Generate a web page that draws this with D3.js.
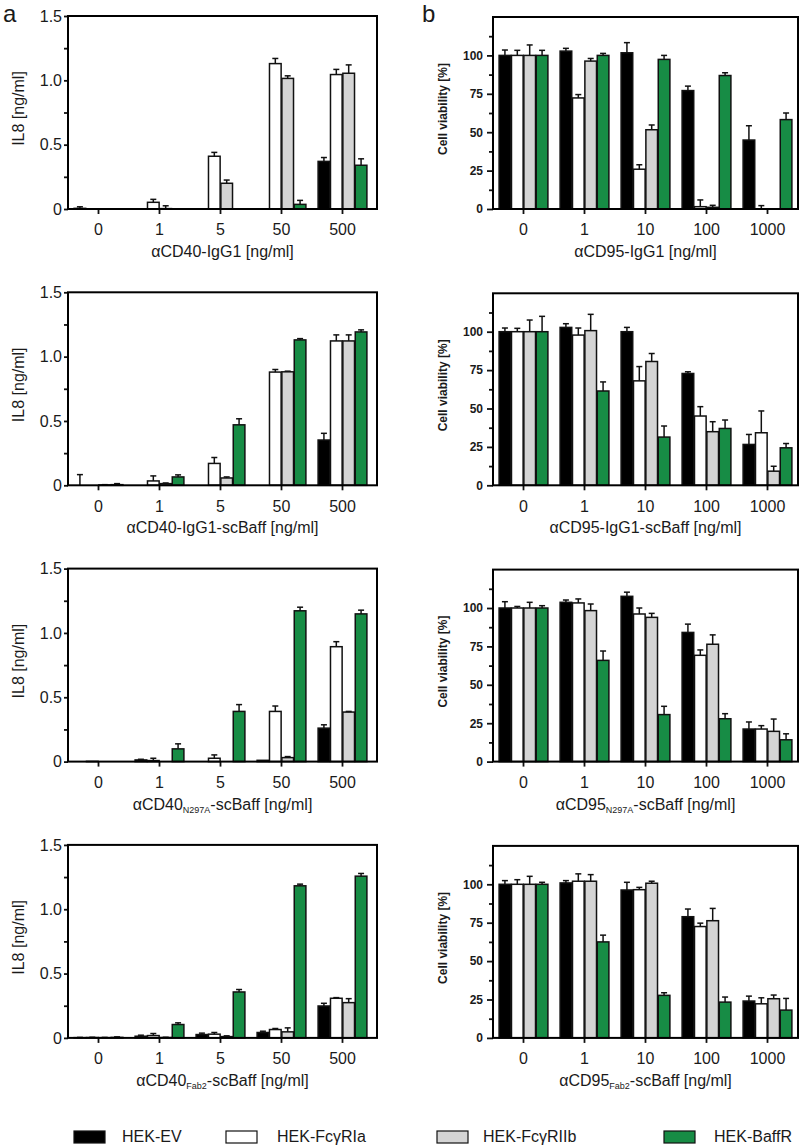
<!DOCTYPE html>
<html><head><meta charset="utf-8">
<script src="https://cdn.jsdelivr.net/npm/d3@7/dist/d3.min.js"></script>
<style>
body{margin:0;background:#fff}
svg{display:block}
text{font-family:"Liberation Sans",Arial,Helvetica,sans-serif;fill:#1a1a1a}
</style>
</head><body>
<svg id="chart" width="800" height="1145"></svg>
<script>
// ---------- data ----------
const seriesNames = ["HEK-EV", "HEK-FcγRIa", "HEK-FcγRIIb", "HEK-BaffR"];
const il8Doses = ["0", "1", "5", "50", "500"];
const cd95Doses = ["0", "1", "10", "100", "1000"];
const il8TickValues = [0, 0.5, 1.0, 1.5];
const il8TickLabels = ["0", "0.5", "1.0", "1.5"];
const il8MinorTicks = [0.25, 0.75, 1.25];
const viabTickValues = [0, 25, 50, 75, 100];
const viabTickLabels = ["0", "25", "50", "75", "100"];
const viabMinorTicks = [12.5, 37.5, 62.5, 87.5, 112.5];

// panel a – IL8 [ng/ml]; rows = series (EV, FcγRIa, FcγRIIb, BaffR), cols = doses
const a1Mean = [[0.005,0,0,0,0.37],[0,0.052,0.41,1.13,1.045],[0,0.003,0.2,1.015,1.055],[0,0,0,0.036,0.34]];
const a1Err  = [[0.012,0,0,0,0.03],[0,0.023,0.03,0.04,0.04],[0,0.022,0.025,0.02,0.065],[0,0,0,0.031,0.05]];
const a2Mean = [[0,0,0,0,0.352],[0,0.034,0.17,0.88,1.122],[0.003,0.013,0.057,0.882,1.122],[0.005,0.065,0.47,1.13,1.192]];
const a2Err  = [[0.083,0,0,0,0.052],[0,0.039,0.046,0.02,0.047],[0.002,0.005,0.008,0.005,0.047],[0.008,0.016,0.047,0.01,0.016]];
const a3Mean = [[0,0.013,0,0.01,0.26],[0.002,0.008,0.026,0.39,0.893],[0,0,0,0.031,0.385],[0,0.099,0.39,1.172,1.148]];
const a3Err  = [[0,0.005,0,0,0.026],[0,0.018,0.026,0.042,0.039],[0,0,0,0.008,0.005],[0,0.039,0.053,0.028,0.029]];
const a4Mean = [[0.002,0.013,0.026,0.042,0.248],[0.003,0.018,0.029,0.065,0.308],[0.002,0.003,0.01,0.047,0.274],[0.004,0.104,0.357,1.182,1.257]];
const a4Err  = [[0.002,0.008,0.011,0.01,0.021],[0.002,0.016,0.013,0.008,0.005],[0.002,0.002,0.006,0.031,0.031],[0.004,0.013,0.019,0.013,0.021]];

// panel b – cell viability [%]
const b1Mean = [[100,102.8,101.7,77.1,44.9],[100,72.3,25.9,1.5,0],[100,96.3,51.6,1.1,0],[100,100,97.4,86.9,58.2]];
const b1Err  = [[3.5,1.8,6.6,2.9,9.3],[3.3,2.2,2.9,4.4,2.2],[6.8,1.7,3.1,1.3,0],[3.3,1.3,2.6,1.8,4.3]];
const b2Mean = [[100,102.8,100,72.8,26.6],[100,97.8,68,45.1,34.2],[100,100.7,80.6,34.9,9.2],[100,61.4,31.4,37,24.4]];
const b2Err  = [[2.4,2.4,2.8,1.1,6.5],[2.2,4.6,9.3,6.1,14.2],[7.6,10.6,5.2,6.5,3.2],[10,5.9,7.2,5.5,2.8]];
const b3Mean = [[100,103.7,107.6,84.1,21.2],[100,103.3,96.1,69.2,21.2],[100,98.3,93.9,76.4,19.7],[100,65.9,30.6,27.9,14.2]];
const b3Err  = [[4.1,1.5,2.7,5.4,4.6],[1,2.6,3.9,3.5,2.2],[3.7,4.3,2.6,6.1,8],[1.5,6.1,5.4,3.3,3.9]];
const b4Mean = [[100,100.9,96.3,78.9,24],[100,102,96.5,72.5,22.2],[100,102,100.7,76.3,25.5],[100,62.5,27.7,23.3,18.1]];
const b4Err  = [[2.4,1.5,5,5,3.2],[3,4.8,1.5,2.2,3.9],[5.2,4.3,1.3,8,2.4],[1.3,4.4,1.7,3.3,7.6]];

// x-axis titles: [main, subscript, rest]
const aTitles = [["αCD40-IgG1 [ng/ml]","",""],["αCD40-IgG1-scBaff [ng/ml]","",""],["αCD40","N297A","-scBaff [ng/ml]"],["αCD40","Fab2","-scBaff [ng/ml]"]];
const bTitles = [["αCD95-IgG1 [ng/ml]","",""],["αCD95-IgG1-scBaff [ng/ml]","",""],["αCD95","N297A","-scBaff [ng/ml]"],["αCD95","Fab2","-scBaff [ng/ml]"]];

// ---------- styling ----------
const fills = ["#000000", "#ffffff", "#d4d4d4", "#178c45"];
const svg = d3.select("#chart");

function drawPanel(cfg) {
  const g = svg.append("g");
  const x = d3.scaleBand().domain(cfg.doses).range([cfg.x0, cfg.x0 + 305]).paddingInner(0.2).paddingOuter(0.1);
  const xs = d3.scaleBand().domain(d3.range(4)).range([0, x.bandwidth()]).paddingInner(0.06);
  const y = d3.scaleLinear().domain([0, cfg.yMax]).range([cfg.bottom, cfg.top]);

  // bars
  const cells = [];
  cfg.means.forEach((row, k) => row.forEach((v, j) => cells.push({k, j, v, e: cfg.errs[k][j]})));
  g.selectAll("rect.bar").data(cells).join("rect")
    .attr("x", d => x(cfg.doses[d.j]) + xs(d.k))
    .attr("y", d => y(d.v))
    .attr("width", xs.bandwidth())
    .attr("height", d => y(0) - y(d.v))
    .attr("fill", d => fills[d.k])
    .attr("stroke", "#111").attr("stroke-width", 1.5);

  // error bars (upper only)
  const eb = cells.filter(d => d.e > 0);
  const cx = d => x(cfg.doses[d.j]) + xs(d.k) + xs.bandwidth() / 2;
  g.selectAll("line.ev").data(eb).join("line")
    .attr("x1", cx).attr("x2", cx)
    .attr("y1", d => y(d.v)).attr("y2", d => y(d.v + d.e))
    .attr("stroke", "#111").attr("stroke-width", 1.5);
  g.selectAll("line.ec").data(eb).join("line")
    .attr("x1", d => cx(d) - 3).attr("x2", d => cx(d) + 3)
    .attr("y1", d => y(d.v + d.e)).attr("y2", d => y(d.v + d.e))
    .attr("stroke", "#111").attr("stroke-width", 1.5);

  // y axis
  const yAx = g.append("g").attr("transform", `translate(${cfg.x0},0)`)
    .call(d3.axisLeft(y).tickValues(cfg.yTicks).tickFormat((d, i) => cfg.yLabels[i]).tickSize(cfg.right ? 6 : 4).tickPadding(cfg.right ? 4 : 2));
  yAx.select(".domain").remove();
  yAx.selectAll("line").attr("stroke", "#111").attr("stroke-width", 1.8);
  yAx.selectAll("text").attr("font-size", cfg.right ? 12 : 16).attr("font-weight", cfg.right ? "bold" : "normal")
    .attr("fill", "#1a1a1a").style("font-family", '"Liberation Sans", Arial, sans-serif');
  const yMin = g.append("g").attr("transform", `translate(${cfg.x0},0)`)
    .call(d3.axisLeft(y).tickValues(cfg.yMinor).tickFormat("").tickSize(4));
  yMin.select(".domain").remove();
  yMin.selectAll("line").attr("stroke", "#111").attr("stroke-width", 1.8);

  // x axis
  const xAx = g.append("g").attr("transform", `translate(0,${cfg.bottom})`)
    .call(d3.axisBottom(x).tickSize(5).tickPadding(10));
  xAx.select(".domain").remove();
  xAx.selectAll("line").attr("stroke", "#111").attr("stroke-width", 1.8);
  xAx.selectAll("text").attr("font-size", 16).attr("fill", "#1a1a1a")
    .style("font-family", '"Liberation Sans", Arial, sans-serif');

  // frame
  g.append("rect").attr("x", cfg.x0).attr("y", cfg.top)
    .attr("width", cfg.x1 - cfg.x0).attr("height", cfg.bottom - cfg.top)
    .attr("fill", "none").attr("stroke", "#000").attr("stroke-width", 2);

  // x title
  const t = g.append("text").attr("x", (cfg.x0 + cfg.x1) / 2).attr("y", cfg.bottom + 48)
    .attr("text-anchor", "middle").attr("font-size", 16);
  t.append("tspan").text(cfg.title[0]);
  if (cfg.title[1]) {
    t.append("tspan").attr("font-size", 9).attr("dy", 3).text(cfg.title[1]);
    t.append("tspan").attr("dy", -3).text(cfg.title[2]);
  }

  // y title
  const ym = (cfg.top + cfg.bottom) / 2 - 4;
  g.append("text")
    .attr("transform", `translate(${cfg.right ? 447 : 24},${ym}) rotate(-90)`)
    .attr("text-anchor", "middle")
    .attr("font-size", cfg.right ? 12 : 16)
    .attr("font-weight", cfg.right ? "bold" : "normal")
    .text(cfg.right ? "Cell viability [%]" : "IL8 [ng/ml]");
}

const aMeans = [a1Mean, a2Mean, a3Mean, a4Mean];
const aErrs = [a1Err, a2Err, a3Err, a4Err];
const bMeans = [b1Mean, b2Mean, b3Mean, b4Mean];
const bErrs = [b1Err, b2Err, b3Err, b4Err];

for (let i = 0; i < 4; i++) {
  const top = 16 + i * 276.3, bottom = top + 193;
  drawPanel({x0: 68, x1: 377, top, bottom, yMax: 1.5, yTicks: il8TickValues, yLabels: il8TickLabels,
    yMinor: il8MinorTicks, doses: il8Doses, means: aMeans[i], errs: aErrs[i], title: aTitles[i], right: false});
  drawPanel({x0: 493, x1: 798, top: top + 1, bottom, yMax: 125, yTicks: viabTickValues, yLabels: viabTickLabels,
    yMinor: viabMinorTicks, doses: cd95Doses, means: bMeans[i], errs: bErrs[i], title: bTitles[i], right: true});
}

// panel letters
svg.append("text").attr("x", 3).attr("y", 22).attr("font-size", 24).text("a");
svg.append("text").attr("x", 422).attr("y", 22).attr("font-size", 24).text("b");

// legend
const legX = [74, 226, 437, 664];
const leg = svg.append("g");
seriesNames.forEach((name, k) => {
  leg.append("rect").attr("x", legX[k]).attr("y", 1131).attr("width", 31).attr("height", 12)
    .attr("fill", fills[k]).attr("stroke", "#111").attr("stroke-width", 1.2);
  leg.append("text").attr("x", legX[k] + (k === 0 ? 48 : k === 1 ? 51 : k === 2 ? 46 : 50)).attr("y", 1142)
    .attr("font-size", 16).text(name);
});
</script>
</body></html>
